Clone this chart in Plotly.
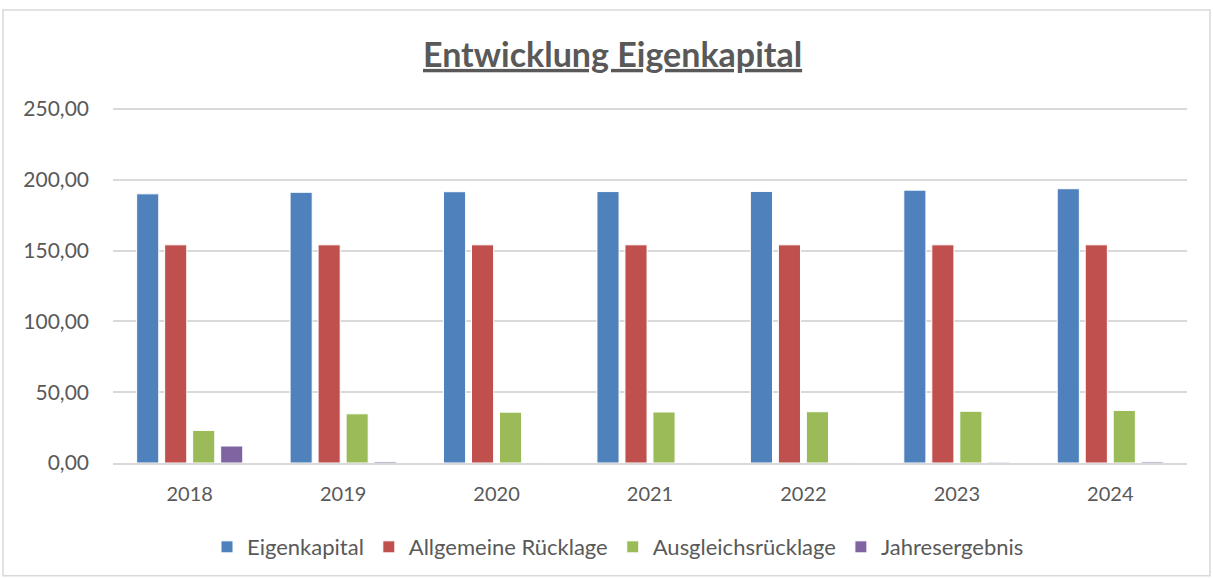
import plotly.graph_objects as go

years = ["2018", "2019", "2020", "2021", "2022", "2023", "2024"]
eigenkapital = [190.0, 191.1, 191.5, 191.6, 191.7, 192.6, 193.6]
allgemeine_ruecklage = [154.0, 154.0, 154.0, 154.0, 154.0, 154.0, 154.0]
ausgleichsruecklage = [23.0, 34.7, 35.9, 36.0, 36.2, 36.5, 37.1]
jahresergebnis = [12.0, 1.0, 0.1, 0.1, 0.2, 0.6, 0.9]

series = [
    ("Eigenkapital", eigenkapital, "#4F81BD"),
    ("Allgemeine Rücklage", allgemeine_ruecklage, "#C0504D"),
    ("Ausgleichsrücklage", ausgleichsruecklage, "#9BBB59"),
    ("Jahresergebnis", jahresergebnis, "#8064A2"),
]

FONT = "Lato"
fig = go.Figure()
for name, vals, col in series:
    fig.add_trace(go.Bar(x=years, y=vals, name=name,
                         marker=dict(color=col, line=dict(color="white", width=1))))

W, H = 1213, 579
YMAX = 252
L, R, B = 113, 1187, 464
T = B - 355 * YMAX / 250
pw, ph = R - L, B - T

def px(x):
    return (x - L) / pw

def py(y):
    return (B - y) / ph

fig.update_layout(
    width=W, height=H,
    margin=dict(l=L, r=W - R, t=T, b=H - B),
    paper_bgcolor="white", plot_bgcolor="white",
    separators=",.",
    barmode="group", bargap=0.27, bargroupgap=0.21,
    font=dict(family=FONT, color="#595959", size=20),
    title=dict(text="<b><u>Entwicklung Eigenkapital</u></b>", x=0.505, xanchor="center",
               y=1 - 55 / H, yanchor="middle",
               font=dict(family=FONT, size=34, color="#595959")),
    xaxis=dict(showgrid=False, showline=True, linecolor="#d9d9d9", linewidth=2,
               ticks="", ticklabelstandoff=12, tickfont=dict(size=20, color="#595959")),
    yaxis=dict(range=[0, YMAX], tickvals=[0, 50, 100, 150, 200, 250], tickformat=".2f",
               showgrid=True, gridcolor="#d9d9d9", gridwidth=1.5, zeroline=False,
               showline=False, ticks="", ticklabelstandoff=23,
               tickfont=dict(size=21, color="#595959")),
    legend=dict(orientation="h", x=px(618), xanchor="center", y=py(547), yanchor="middle",
                font=dict(size=22, color="#595959"), itemwidth=30),
    showlegend=True,
)

fig.add_shape(type="rect", xref="paper", yref="paper",
              x0=px(3), x1=px(1210), y0=py(577), y1=py(10),
              line=dict(color="#d9d9d9", width=1.5), fillcolor="rgba(0,0,0,0)", layer="below")

fig.write_html("out.html", config={"displayModeBar": False},
               post_script="document.body.style.margin='0';document.body.style.padding='0';")
